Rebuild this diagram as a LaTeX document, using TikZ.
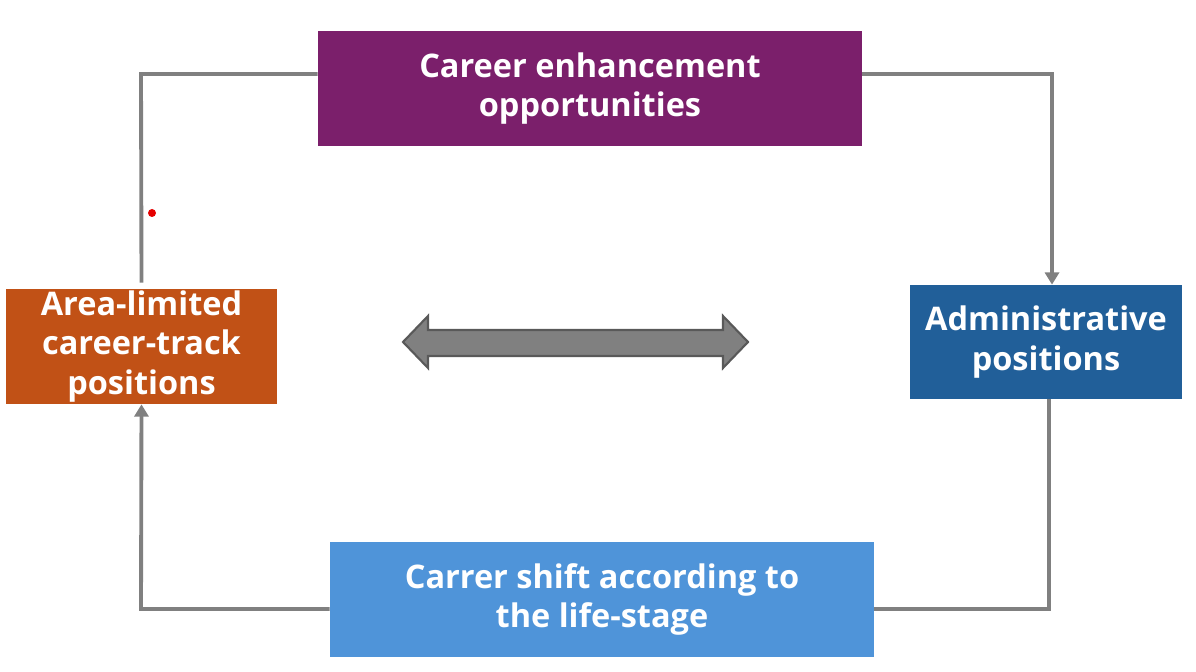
\documentclass[tikz,border=0pt]{standalone}
\usepackage{fontspec}
\setmainfont{Open Sans}[BoldFont={* Bold}]
\usetikzlibrary{arrows.meta}

\definecolor{purplebox}{RGB}{123,31,107}
\definecolor{orangebox}{RGB}{193,81,22}
\definecolor{bluebox}{RGB}{33,95,153}
\definecolor{skybox}{RGB}{79,148,217}
\definecolor{linkgray}{RGB}{128,128,128}

\tikzset{
  box/.style={minimum height=2.3cm,align=center,text=white,inner sep=0pt},
  link/.style={draw=linkgray,line width=2.2pt},
  tip/.style={-{Triangle[width=8pt,length=7pt]}}
}
\tikzstyle{every node}=[font=\fontsize{18.5}{22.5}\selectfont\bfseries]

\begin{document}
\begin{tikzpicture}[x=0.02cm,y=-0.02cm]
    \useasboundingbox (0,0) rectangle (1196,672);
    \node[box,fill=purplebox,minimum width=10.88cm] (career) at (590,88.5) {Career enhancement\\opportunities};
    \node[box,fill=orangebox,minimum width=5.42cm] (area) at (141.5,346.5) {Area-limited\\career-track\\positions};
    \node[box,fill=bluebox,minimum width=5.44cm,minimum height=2.28cm] (admin) at (1046,342) {Administrative\\positions};
    \node[box,fill=skybox,minimum width=10.88cm] (shift) at (602,599.5) {Carrer shift according to\\the life-stage};
    \coordinate (tl) at (141,74);
    \coordinate (tr) at (1052,74);
    \coordinate (br) at (1049,609);
    \coordinate (bl) at (141,609);
    \draw [link] (career.west |- tl) -- (tl) -- ([yshift=0.12cm]area.north);
    \draw [link,tip] (career.east |- tr) -- (tr) -- (tr |- admin.north);
    \draw [link] (admin.south -| br) -- (br) -- (shift.east |- br);
    \draw [link,tip] (shift.west |- bl) -- (bl) -- (area.south);
    % swap arrow in the middle
    \draw [fill=linkgray,draw=black!65,line width=1.2pt,line join=miter]
      (403,342) -- (428,316) -- (428,330) -- (723,330) -- (723,316) -- (748,342)
      -- (723,368) -- (723,356) -- (428,356) -- (428,368) -- cycle;
    \fill [red!90!black] (152,213) circle (4);
\end{tikzpicture}
\end{document}
